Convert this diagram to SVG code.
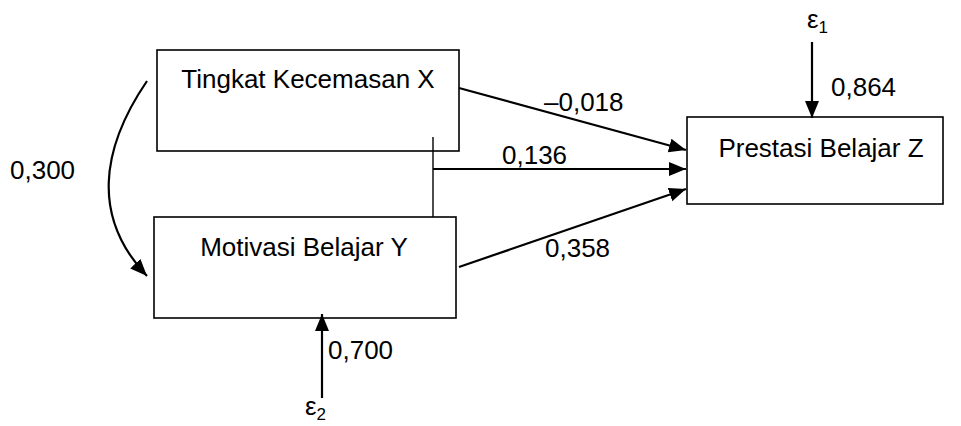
<svg xmlns="http://www.w3.org/2000/svg" width="961" height="426" viewBox="0 0 961 426">
<defs>
<style>
text{font-family:"Liberation Sans",Arial,sans-serif;font-size:26px;fill:#000}
.box{fill:#fff;stroke:#000;stroke-width:1.6}
.arr{fill:none;stroke:#000;stroke-width:2.2}
.thin{fill:none;stroke:#000;stroke-width:1.4}
.sub{font-size:17px}
</style>
<marker id="ah" markerUnits="userSpaceOnUse" markerWidth="20" markerHeight="16" refX="17" refY="7" orient="auto" viewBox="0 0 20 16">
<path d="M0,0 L17,7 L0,14 z" fill="#000"/>
</marker>
</defs>
<rect width="961" height="426" fill="#fff"/>
<g id="nodeX">
<rect class="box" x="157" y="50" width="302" height="101"/>
<text x="308" y="88" text-anchor="middle">Tingkat Kecemasan X</text>
</g>
<g id="nodeY">
<rect class="box" x="154" y="217" width="302" height="101"/>
<text x="304" y="256" text-anchor="middle">Motivasi Belajar Y</text>
</g>
<g id="nodeZ">
<rect class="box" x="687" y="117" width="256" height="87"/>
<text x="821" y="157" text-anchor="middle">Prestasi Belajar Z</text>
</g>
<g id="connectors">
<path class="arr" d="M147,81 C100,150 92,218 147,276" marker-end="url(#ah)"/>
<line class="arr" x1="459" y1="88" x2="686" y2="150" marker-end="url(#ah)"/>
<line class="thin" x1="433" y1="137" x2="433" y2="217"/>
<line class="arr" x1="433" y1="169" x2="686" y2="169" marker-end="url(#ah)"/>
<line class="arr" x1="459" y1="267" x2="686" y2="189" marker-end="url(#ah)"/>
<line class="arr" x1="812" y1="42" x2="812" y2="118" marker-end="url(#ah)"/>
<line class="arr" x1="322" y1="398" x2="322" y2="314" marker-end="url(#ah)"/>
</g>
<g id="labels">
<text x="10" y="179">0,300</text>
<text x="544" y="111">–0,018</text>
<text x="502" y="164">0,136</text>
<text x="545" y="257">0,358</text>
<text x="831" y="96">0,864</text>
<text x="328" y="359">0,700</text>
<text x="807" y="28">ε<tspan class="sub" dy="5">1</tspan></text>
<text x="305" y="415">ε<tspan class="sub" dy="5">2</tspan></text>
</g>
</svg>
